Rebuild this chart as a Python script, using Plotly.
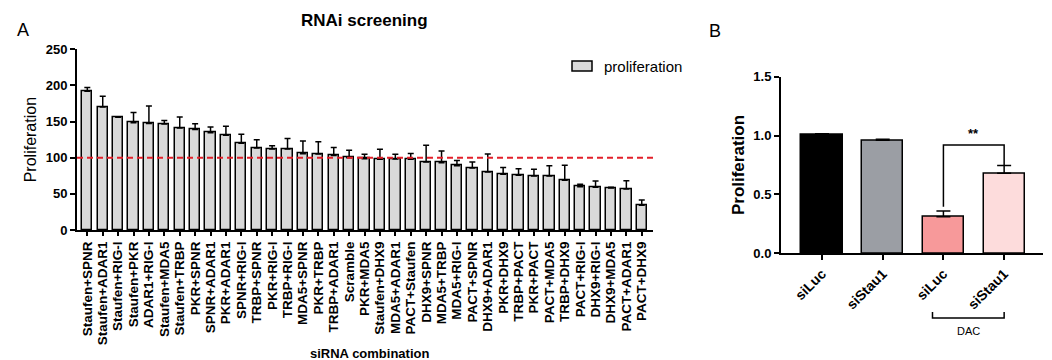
import plotly.graph_objects as go

# ---------------- Panel A data ----------------
combos = ["Staufen+SPNR", "Staufen+ADAR1", "Staufen+RIG-I", "Staufen+PKR", "ADAR1+RIG-I",
          "Staufen+MDA5", "Staufen+TRBP", "PKR+SPNR", "SPNR+ADAR1", "PKR+ADAR1",
          "SPNR+RIG-I", "TRBP+SPNR", "PKR+RIG-I", "TRBP+RIG-I", "MDA5+SPNR",
          "PKR+TRBP", "TRBP+ADAR1", "Scramble", "PKR+MDA5", "Staufen+DHX9",
          "MDA5+ADAR1", "PACT+Staufen", "DHX9+SPNR", "MDA5+TRBP", "MDA5+RIG-I",
          "PACT+SPNR", "DHX9+ADAR1", "PKR+DHX9", "TRBP+PACT", "PKR+PACT",
          "PACT+MDA5", "TRBP+DHX9", "PACT+RIG-I", "DHX9+RIG-I", "DHX9+MDA5",
          "PACT+ADAR1", "PACT+DHX9"]
prolif = [192, 170, 156, 148.5, 147.5, 146.5, 141, 139, 134.5, 131,
          120, 113.5, 112, 112, 105.5, 105, 103, 100, 98.7, 97.8,
          98.2, 97.8, 94.1, 93.2, 89, 85.8, 80.3, 77, 75.6, 74.7,
          74.7, 68.7, 60, 59, 58.1, 56.7, 34.1]
prolif_err = [5, 15, 0.8, 14, 24, 5, 15.5, 8, 8, 12.5,
              12.5, 11.5, 4.5, 14.5, 17.5, 17, 11, 10.5, 6, 13.8,
              6.5, 8, 23, 16, 7, 8.3, 25, 9.3, 9.3, 9.3,
              14.3, 20.8, 3.2, 8.8, 0.9, 11.6, 7.4]
reference_level = 100
legend_name = "proliferation"

# ---------------- Panel B data ----------------
b_labels = ["siLuc", "siStau1", "siLuc", "siStau1"]
b_values = [1.005, 0.96, 0.31, 0.68]
b_err = [0.01, 0.008, 0.05, 0.065]
b_colors = ["#000000", "#9b9ea4", "#f7999a", "#fddcdc"]
sig_text = "**"
group_label = "DAC"

FONT = "Liberation Sans"
W, H = 1052, 360
BAR_A_COLOR = "#d9d9d9"

def px_x(p):
    return p / W

def px_y(p):
    return 1 - p / H

fig = go.Figure()

fig.add_trace(go.Bar(
    x=combos, y=prolif, name=legend_name,
    marker=dict(color=BAR_A_COLOR, line=dict(color="#000000", width=1.5)),
    width=0.67,
    error_y=dict(type="data", symmetric=False, array=prolif_err,
                 arrayminus=[0] * len(prolif_err), color="#000000",
                 thickness=1.5, width=3),
    xaxis="x", yaxis="y", showlegend=False,
))

b_x = list(range(len(b_values)))
fig.add_trace(go.Bar(
    x=b_x, y=b_values,
    marker=dict(color=b_colors, line=dict(color="#000000", width=1.5)),
    width=0.68,
    error_y=dict(type="data", symmetric=False, array=b_err,
                 arrayminus=[0] * len(b_err), color="#000000",
                 thickness=1.5, width=7),
    xaxis="x2", yaxis="y2", showlegend=False,
))

axis_common = dict(showline=True, linecolor="#000000", linewidth=2,
                   ticks="outside", tickcolor="#000000", tickwidth=1.5,
                   showgrid=False, zeroline=False, automargin=False)

fig.update_layout(
    width=W, height=H,
    margin=dict(l=0, r=0, t=0, b=0),
    paper_bgcolor="white", plot_bgcolor="white",
    font=dict(family=FONT, color="#000000"),
    bargap=0,
    showlegend=False,
    xaxis=dict(domain=[px_x(77), px_x(653)], range=[-0.67, 36.73],
               tickmode="array", tickvals=combos, ticktext=combos,
               tickangle=-90, ticklen=4,
               tickfont=dict(size=13.5, weight="bold", family=FONT),
               anchor="y", **axis_common),
    yaxis=dict(domain=[px_y(230), px_y(49.3)], range=[0, 250], dtick=50,
               ticklen=5, tickfont=dict(size=13, weight="bold", family=FONT),
               title=dict(text="Proliferation", font=dict(size=16), standoff=5),
               anchor="x", **axis_common),
    xaxis2=dict(domain=[px_x(781), px_x(1043)], range=[-0.675, 3.64],
                tickvals=b_x, ticktext=b_labels, tickangle=-45, ticklen=5,
                tickfont=dict(size=14, weight="bold", family=FONT),
                anchor="y2", **axis_common),
    yaxis2=dict(domain=[px_y(253.3), px_y(76.7)], range=[0, 1.5], dtick=0.5,
                tickformat=".1f", ticklen=5,
                tickfont=dict(size=13, weight="bold", family=FONT),
                title=dict(text="Proliferation", font=dict(size=17, weight="bold"),
                           standoff=4),
                anchor="x2", **axis_common),
)

# legend (drawn manually to match the boxed swatch)
fig.add_shape(type="rect", xref="paper", yref="paper",
              x0=px_x(572), x1=px_x(592), y0=px_y(71), y1=px_y(61),
              fillcolor=BAR_A_COLOR, line=dict(color="#000000", width=1.5))
fig.add_annotation(x=px_x(602), y=px_y(66), xref="paper", yref="paper",
                   text=legend_name, showarrow=False, xanchor="left", yanchor="middle",
                   font=dict(size=15))

# x axis title of A
fig.add_annotation(x=px_x(369), y=px_y(353), xref="paper", yref="paper",
                   text="siRNA combination", showarrow=False,
                   xanchor="center", yanchor="middle",
                   font=dict(size=13, weight="bold"))

# red dashed reference line
fig.add_shape(type="line", xref="x domain", yref="y", x0=0, x1=1,
              y0=reference_level, y1=reference_level,
              line=dict(color="#e3202a", width=2, dash="6px,4px"))

# significance bracket in B
i1, i2 = 2, 3
top1 = b_values[i1] + b_err[i1]
top2 = b_values[i2] + b_err[i2]
bracket_y = max(top1, top2) + 0.175
fig.add_shape(type="path", xref="x2", yref="y2",
              path=f"M {i1},{top1 + 0.035} L {i1},{bracket_y} L {i2},{bracket_y} L {i2},{top2}",
              line=dict(color="#000000", width=1.5))
fig.add_annotation(x=(i1 + i2) / 2, y=bracket_y + 0.02, xref="x2", yref="y2",
                   text=sig_text, showarrow=False, xanchor="center", yanchor="bottom",
                   font=dict(size=13, weight="bold"))

# DAC group bracket
fig.add_shape(type="path", xref="x2", yref="paper",
              path=f"M {i1 - 0.18},{px_y(312)} L {i1 - 0.18},{px_y(318)} L {i2},{px_y(318)} L {i2},{px_y(312)}",
              line=dict(color="#000000", width=1.5))
fig.add_annotation(x=(i1 - 0.18 + i2) / 2, y=px_y(331), xref="x2", yref="paper",
                   text=group_label, showarrow=False, xanchor="center", yanchor="middle",
                   font=dict(size=11))

# titles and panel letters
fig.add_annotation(x=px_x(364), y=px_y(20), xref="paper", yref="paper",
                   text="RNAi screening", showarrow=False,
                   xanchor="center", yanchor="middle",
                   font=dict(size=17, weight="bold"))
fig.add_annotation(x=px_x(22.5), y=px_y(30), xref="paper", yref="paper",
                   text="A", showarrow=False, xanchor="center", yanchor="middle",
                   font=dict(size=18))
fig.add_annotation(x=px_x(715), y=px_y(31), xref="paper", yref="paper",
                   text="B", showarrow=False, xanchor="center", yanchor="middle",
                   font=dict(size=18))

fig.write_html("out.html", config={"displayModeBar": False},
               post_script="document.body.style.margin='0';document.body.style.overflow='hidden';")
